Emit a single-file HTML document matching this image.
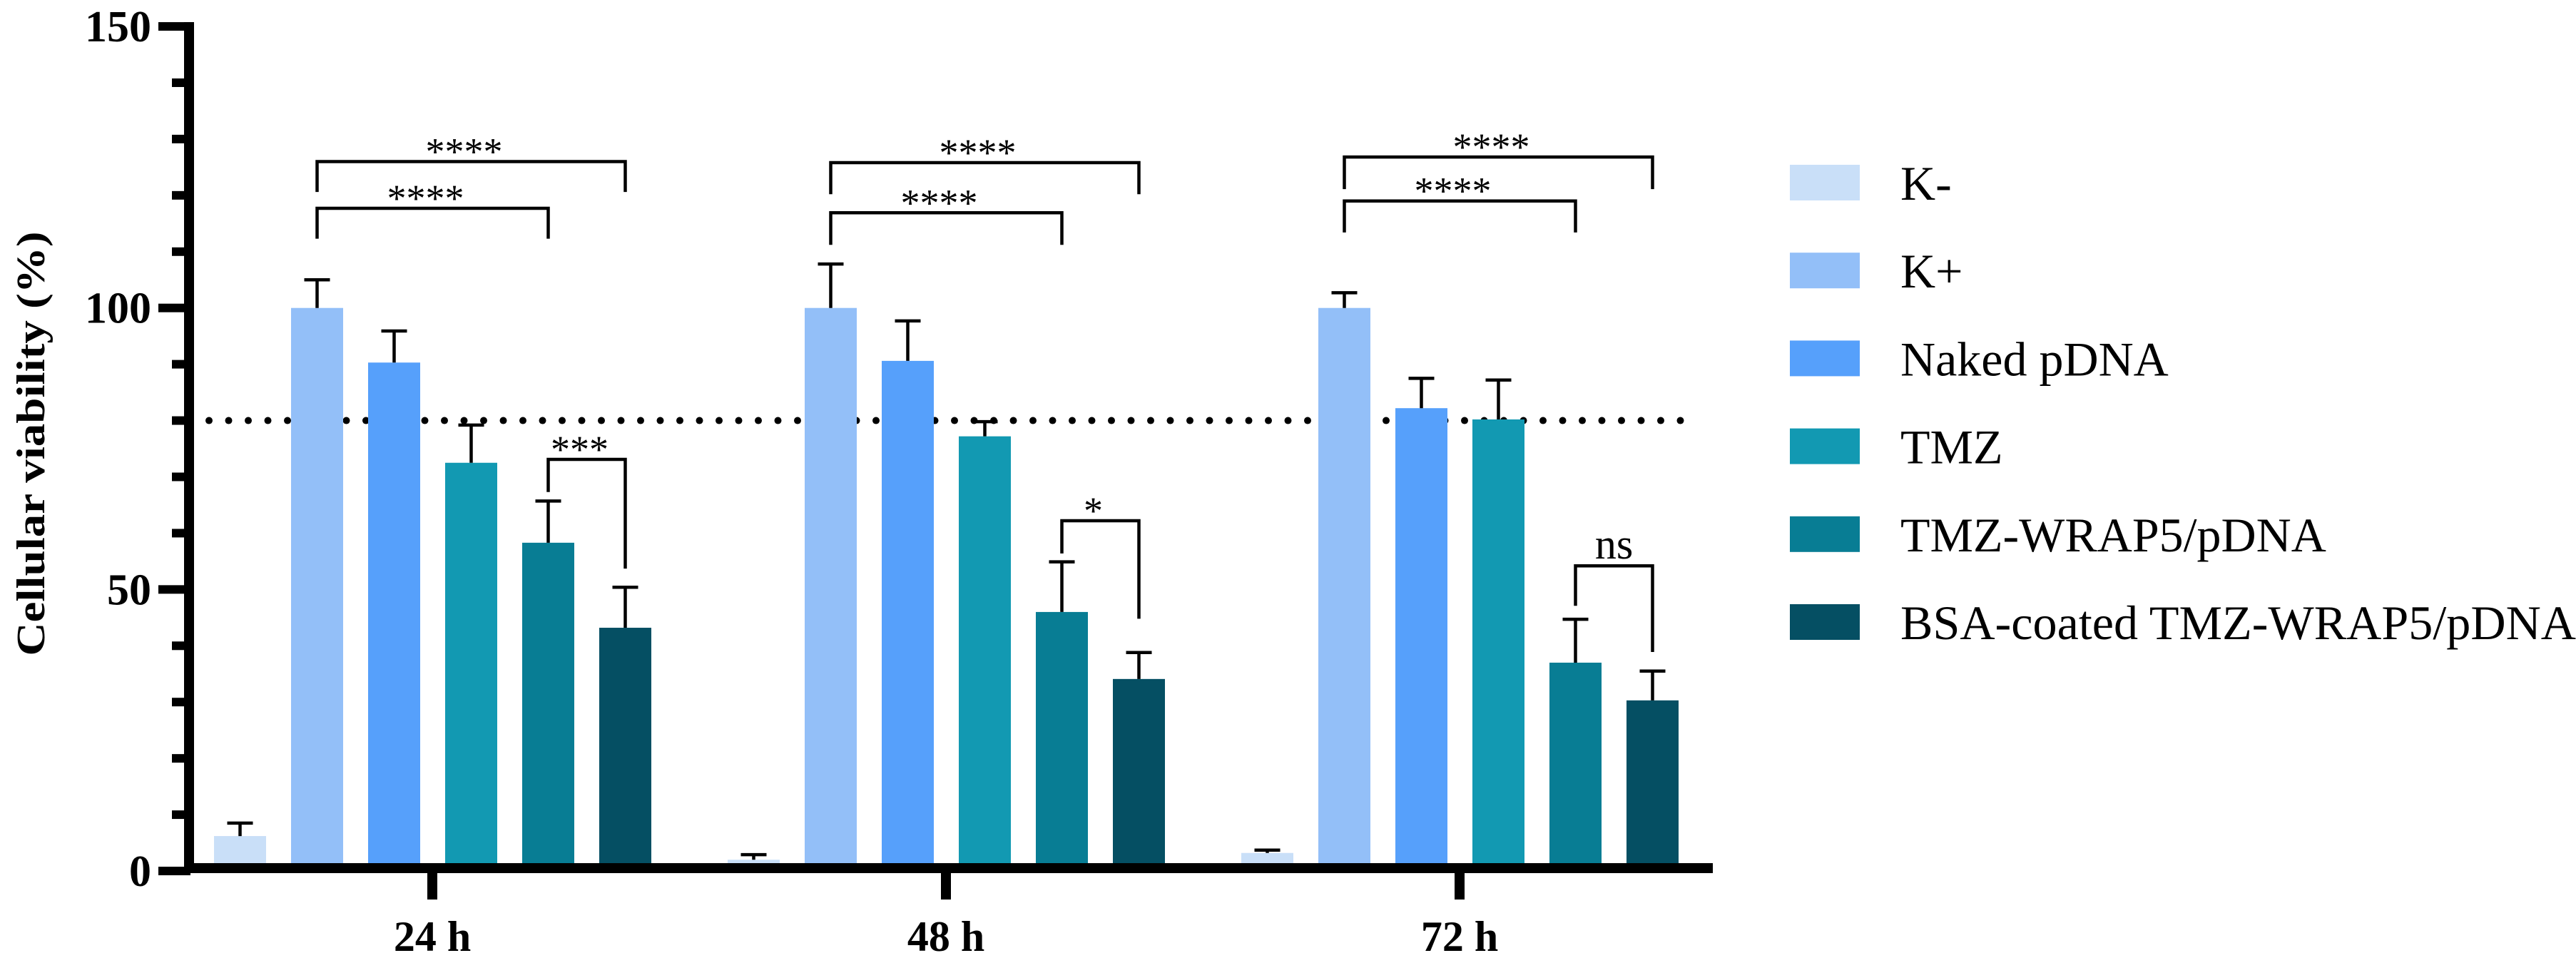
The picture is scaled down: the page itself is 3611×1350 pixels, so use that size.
<!DOCTYPE html>
<html><head><meta charset="utf-8"><style>
html,body{margin:0;padding:0;background:#fff;}
svg{display:block;}
text{font-family:"Liberation Serif",serif;fill:#000;}
</style></head><body>
<svg id="chart" width="3611" height="1350" viewBox="0 0 3611 1350" xmlns="http://www.w3.org/2000/svg">
<g id="dotline"></g>
<g id="bars"></g>
<g id="errs"></g>
<g id="brackets"></g>
<g id="axes"></g>
<g id="legend"></g>
<text transform="translate(62,622) rotate(-90)" text-anchor="middle" font-size="56" font-weight="bold" textLength="595" lengthAdjust="spacingAndGlyphs">Cellular viability (%)</text>
</svg>
<script>
const categories = ["24 h", "48 h", "72 h"];
const seriesNames = ["K-", "K+", "Naked pDNA", "TMZ", "TMZ-WRAP5/pDNA", "BSA-coated TMZ-WRAP5/pDNA"];
const seriesColors = ["#c9dff8", "#93bff8", "#56a0fb", "#1299b2", "#087d94", "#054f63"];
const means24 = [6.2, 100, 90.3, 72.5, 58.3, 43.2];
const means48 = [2.0, 100, 90.6, 77.2, 46.0, 34.1];
const means72 = [3.2, 100, 82.2, 80.2, 37.0, 30.3];
const errTop24 = [8.5, 105, 95.9, 79.2, 65.7, 50.4];
const errTop48 = [2.9, 107.8, 97.7, 79.8, 54.9, 38.8];
const errTop72 = [3.7, 102.7, 87.5, 87.2, 44.7, 35.5];
const yTicks = [0, 50, 100, 150];
const thresholdValue = 80;
const bracketGroups = [0, 0, 0, 1, 1, 1, 2, 2, 2];
const bracketFrom = [1, 1, 4, 1, 1, 4, 1, 1, 4];
const bracketTo = [5, 4, 5, 5, 4, 5, 5, 4, 5];
const bracketLevel = [126, 117.7, 73.1, 125.8, 116.9, 62.2, 126.8, 119, 54.2];
const bracketLegFrom = [120.6, 112.3, 67.3, 120.2, 111.2, 56.4, 121.1, 113.4, 47.1];
const bracketLegTo = [120.6, 112.3, 53.7, 120.2, 111.2, 44.8, 121.1, 113.4, 38.9];
const bracketLabels = ["****", "****", "***", "****", "****", "*", "****", "****", "ns"];

const means = [means24, means48, means72];
const errTop = [errTop24, errTop48, errTop72];
const NS = "http://www.w3.org/2000/svg";
const Y0 = 1221, UNIT = 7.893;
function y(v){ return Y0 - v * UNIT; }
function groupCenter(g){ return 606 + 720 * g; }
const BW = 73, STEP = 108;
function barLeft(g, i){ return groupCenter(g) - 306 + STEP * i; }
function barCenter(g, i){ return barLeft(g, i) + BW / 2; }
function mk(tag, attrs, parent){ const e = document.createElementNS(NS, tag); for (const k in attrs) e.setAttribute(k, attrs[k]); parent.appendChild(e); return e; }

const dl = document.getElementById('dotline');
for (let x = 293; x <= 2372; x += 27.5) {
  const c = mk('circle', {cx: x, cy: y(thresholdValue), r: 5, fill: '#000'}, dl);
  
  
}
const bg = document.getElementById('bars'), eg = document.getElementById('errs');
for (let g = 0; g < categories.length; g++) {
  for (let i = 0; i < seriesNames.length; i++) {
    const top = y(means[g][i]);
    const r = mk('rect', {x: barLeft(g, i), y: top, width: BW, height: 1214 - top, fill: seriesColors[i]}, bg);
    
    
    const cx = barCenter(g, i), et = y(errTop[g][i]);
    const l = mk('path', {d: `M${cx} ${top}V${et}M${cx-18} ${et}H${cx+18}`, stroke: '#000', 'stroke-width': 4.5, fill: 'none'}, eg);
    
    
  }
}
const brg = document.getElementById('brackets');
for (let k = 0; k < bracketLabels.length; k++) {
  const g = bracketGroups[k];
  const x1 = barCenter(g, bracketFrom[k]), x2 = barCenter(g, bracketTo[k]);
  const yl = y(bracketLevel[k]);
  const p = mk('path', {d: `M${x1} ${y(bracketLegFrom[k])}V${yl}H${x2}V${y(bracketLegTo[k])}`, stroke: '#000', 'stroke-width': 4.5, fill: 'none'}, brg);
  
  
  const isNs = bracketLabels[k] === 'ns';
  const t = mk('text', {x: (x1 + x2) / 2 - (isNs ? 0 : 10), y: isNs ? yl - 10 : yl + 4, 'text-anchor': 'middle', 'font-size': isNs ? 60 : 54}, brg);
  t.textContent = bracketLabels[k];
  
  
}
const ax = document.getElementById('axes');
const yl = mk('rect', {x: 258, y: 31, width: 14, height: 1193, fill: '#000'}, ax);


const xl = mk('rect', {x: 258, y: 1210, width: 2143, height: 14, fill: '#000'}, ax);


for (let v = 0; v <= 150; v += 10) {
  const major = yTicks.includes(v);
  const t = mk('rect', {x: major ? 222 : 241, y: y(v) - 6, width: major ? 45 : 26, height: 12, fill: '#000'}, ax);
  
  
}
for (const v of yTicks) {
  const t = mk('text', {x: 212, y: y(v) + 21, 'text-anchor': 'end', 'font-size': 62, 'font-weight': 'bold'}, ax);
  t.textContent = v;
  
  
}
for (let g = 0; g < categories.length; g++) {
  const c = groupCenter(g);
  const t = mk('rect', {x: c - 7, y: 1217, width: 14, height: 44, fill: '#000'}, ax);
  
  
  const l = mk('text', {x: c, y: 1333, 'text-anchor': 'middle', 'font-size': 60, 'font-weight': 'bold'}, ax);
  l.textContent = categories[g];
  
  
}
const lg = document.getElementById('legend');
for (let i = 0; i < seriesNames.length; i++) {
  const cy = 256 + 123.2 * i;
  const s = mk('rect', {x: 2509, y: cy - 25, width: 98, height: 50, fill: seriesColors[i]}, lg);
  
  
  const t = mk('text', {x: 2664, y: cy + 24, 'font-size': 68}, lg);
  if (i === 5) { t.setAttribute('textLength', '947'); t.setAttribute('lengthAdjust', 'spacingAndGlyphs'); }
  t.textContent = seriesNames[i];
  
  
}
</script>
</body></html>
